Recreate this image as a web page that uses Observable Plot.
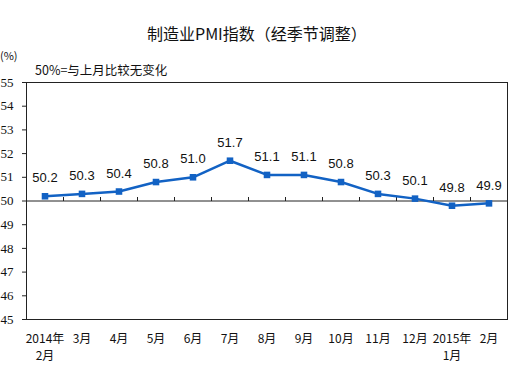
<!DOCTYPE html>
<html>
<head>
<meta charset="utf-8">
<script src="https://cdn.jsdelivr.net/npm/d3@7"></script>
<script src="https://cdn.jsdelivr.net/npm/@observablehq/plot@0.6"></script>
<style>
  html, body { margin: 0; padding: 0; background: #fff; }
  #wrap { position: relative; width: 511px; height: 369px; overflow: hidden; }
  #title { height: 45px; position: relative; }
  #title span { position: absolute; left: 147px; top: 22px; font: 16px "Noto Sans CJK SC", sans-serif; color: #111; white-space: nowrap; line-height: 22px; }
  .note { position: absolute; font-family: "Noto Sans CJK SC", sans-serif; color: #111; white-space: nowrap; z-index: 2; }
</style>
</head>
<body>
<div id="wrap">
  <div id="title"><span>制造业PMI指数（经季节调整）</span></div>
  <div class="note" style="left:0px; top:47px; font-size:11px;">(%)</div>
  <div class="note" style="left:35px; top:60px; font-size:12.5px;">50%=与上月比较无变化</div>
  <div id="chart"></div>
</div>
<script>
const months = ["2014年\n2月", "3月", "4月", "5月", "6月", "7月", "8月", "9月", "10月", "11月", "12月", "2015年\n1月", "2月"];
const pmi = [50.2, 50.3, 50.4, 50.8, 51.0, 51.7, 51.1, 51.1, 50.8, 50.3, 50.1, 49.8, 49.9];
const yTicks = [45, 46, 47, 48, 49, 50, 51, 52, 53, 54, 55];
const baseline = 50;

const data = months.map((m, i) => ({i, month: m, value: pmi[i]}));
const idx = d3.range(months.length);
const bounds = d3.range(months.length - 1).map(i => i + 0.5);
const blue = "#1262c4";

// small upward tick drawn at each category boundary on the 50 line
const tickUp = {draw(ctx) { ctx.moveTo(0, 0); ctx.lineTo(0, -4); }};

const chart = Plot.plot({
  width: 511,
  height: 324,
  marginTop: 37,
  marginBottom: 50,
  marginLeft: 26,
  marginRight: 4,
  x: {type: "linear", domain: [-0.5, months.length - 0.5]},
  y: {domain: [45, 55]},
  style: {background: "transparent"},
  marks: [
    Plot.frame({stroke: "#222", strokeWidth: 1}),
    Plot.axisY({ticks: yTicks, tickSize: 4, tickPadding: 9, fontSize: 13, stroke: "#222", fill: "#111", label: null}),
    Plot.axisX({ticks: idx, tickFormat: i => months[i], tickSize: 0, tickPadding: 11, fontSize: 12, lineHeight: 1.45, fontFamily: "Noto Sans CJK SC, sans-serif", fill: "#111", label: null}),
    Plot.ruleY([baseline], {stroke: "#222", strokeWidth: 1}),
    Plot.dot(bounds, {x: d => d, y: () => baseline, symbol: tickUp, fill: "none", stroke: "#222", strokeWidth: 1}),
    Plot.line(data, {x: "i", y: "value", stroke: blue, strokeWidth: 2.5}),
    Plot.dot(data, {x: "i", y: "value", symbol: "square", r: 3.7, fill: blue, stroke: "none"}),
    Plot.text(data, {x: "i", y: "value", text: d => d.value.toFixed(1), dy: -18, fontSize: 13, fontFamily: "Liberation Sans, Arial, sans-serif", fill: "#111"})
  ]
});
// force serif digits on the y axis labels
const yLabelSet = new Set(yTicks.map(String));
d3.select(chart).selectAll("text")
  .filter(function () { return yLabelSet.has(this.textContent.trim()); })
  .style("font-family", "'Liberation Serif', 'DejaVu Serif', serif")
  .style("font-size", "13px");
document.getElementById("chart").appendChild(chart);
</script>
</body>
</html>
